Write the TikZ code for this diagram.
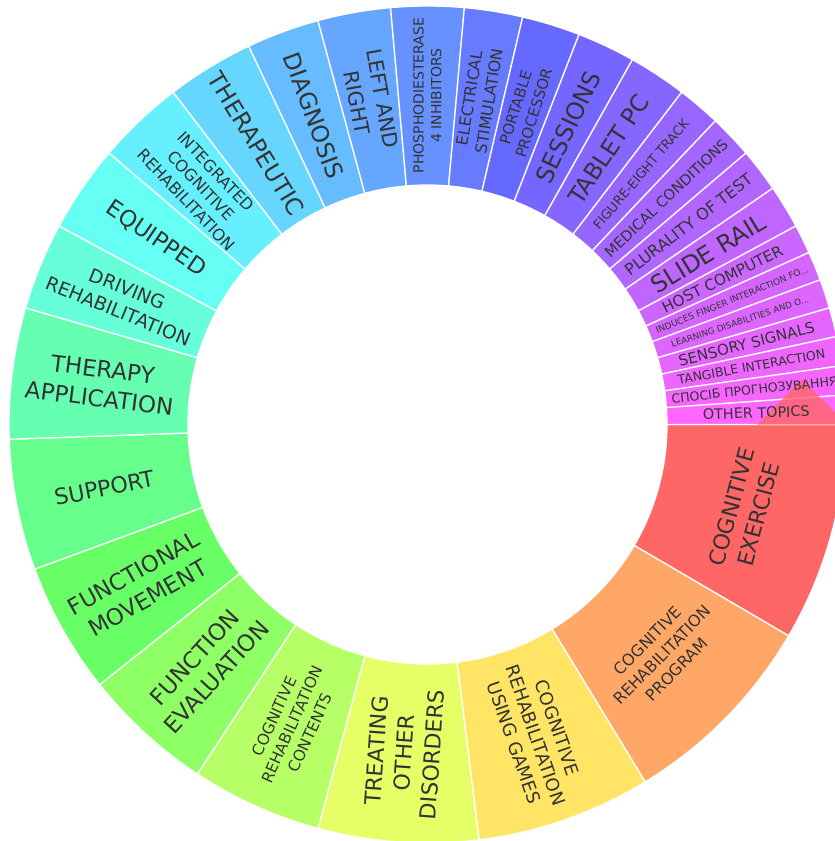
\documentclass[tikz,border=0pt]{standalone}
\usepackage{fontspec}
\setmainfont{DejaVu Sans}
\usetikzlibrary{calc}
\tikzset{
	slice/.style={
		draw=white, 
		line width=1.3pt, 
		line join=round},
	seglabel/.style={
		text=black!80,
		align=center,
		inner sep=0pt},
	tooltip/.style={fill=exred, opacity=.8},
}
\definecolor{exred}{rgb}{1,0.4,0.4}
\newcommand{\rin}{239.5}
\newcommand{\rout}{418.5}
\newcommand{\rlab}{329}
% start/value/font size/tangential/label
\newcommand{\slicelist}{
	0/15/22/1/{COGNITIVE\\EXERCISE},
	15/14/16/1/{COGNITIVE\\REHABILITATION\\PROGRAM},
	29/12/18/0/{COGNITIVE\\REHABILITATION\\USING GAMES},
	41/11/22/0/{TREATING\\OTHER\\DISORDERS},
	52/9/15.5/0/{COGNITIVE\\REHABILITATION\\CONTENTS},
	61/9/23/0/{FUNCTION\\EVALUATION},
	70/9/22.8/0/{FUNCTIONAL\\MOVEMENT},
	79/9/22.2/0/{SUPPORT},
	88/9/23/0/{THERAPY\\APPLICATION},
	97/6/18.8/0/{DRIVING\\REHABILITATION},
	103/6/22.8/0/{EQUIPPED},
	109/6/16.2/0/{INTEGRATED\\COGNITIVE\\REHABILITATION},
	115/6/23.5/0/{THERAPEUTIC},
	121/5/23.5/0/{DIAGNOSIS},
	126/5/20.6/0/{LEFT AND\\RIGHT},
	131/5/14/0/{PHOSPHODIESTERASE\\4 INHIBITORS},
	136/4/15.8/0/{ELECTRICAL\\STIMULATION},
	140/4/15/0/{PORTABLE\\PROCESSOR},
	144/4/24/0/{SESSIONS},
	148/4/23.6/0/{TABLET PC},
	152/3/13/0/{FIGURE-EIGHT TRACK},
	155/3/14.6/0/{MEDICAL CONDITIONS},
	158/3/16/0/{PLURALITY OF TEST},
	161/3/24/0/{SLIDE RAIL},
	164/2/15.2/0/{HOST COMPUTER},
	166/2/9/0/{INDUCES FINGER INTERACTION FO...},
	168/2/8.8/0/{LEARNING DISABILITIES AND O...},
	170/2/15/0/{SENSORY SIGNALS},
	172/2/12.5/0/{TANGIBLE INTERACTION},
	174/2/12.5/0/{СПОСІБ ПРОГНОЗУВАННЯ},
	176/2/14.4/0/{OTHER TOPICS}}

\begin{document}
\begin{tikzpicture}[x=1pt, y=1pt]
	\useasboundingbox (-427.5,-416.5) rectangle (407.5,424.5);
	\fill[white] (-427.5,-416.5) rectangle (407.5,424.5);
	\clip (-427.5,-416.5) rectangle (407.5,424.5);
	
	\foreach \s/\v/\fs/\ori/\txt in \slicelist {
		\pgfmathsetmacro\angA{-\s/178*360}
		\pgfmathsetmacro\angB{-(\s+\v)/178*360}
		\pgfmathsetmacro\hue{\s/176*300}
		\definecolor{huecol}{Hsb}{\hue,0.6,1}
		\colorlet{slicecol}[rgb]{huecol}
		\filldraw[slice, fill=slicecol] (\angA:\rout) arc[start angle=\angA, end angle=\angB, radius=\rout]
			-- (\angB:\rin) arc[start angle=\angB, end angle=\angA, radius=\rin] -- cycle;
	}
	
	\fill[tooltip] (329.5,0) -- (374.5,45) -- (419.5,0) -- cycle;
	
	\foreach \s/\v/\fs/\ori/\txt [count=\i] in \slicelist {
		\pgfmathsetmacro\angM{-(\s+\v/2)/178*360}
		\pgfmathsetmacro\rot{\ori==1 ? \angM+90 : (cos(\angM)>-0.01 ? \angM : \angM+180)}
		\pgfmathsetmacro\bskip{1.27*\fs}
		\node[seglabel, font={\fontsize{\fs}{\bskip}\selectfont}, rotate=\rot] (lbl\i) at (\angM:\rlab) {\txt};
	}
\end{tikzpicture}
\end{document}
